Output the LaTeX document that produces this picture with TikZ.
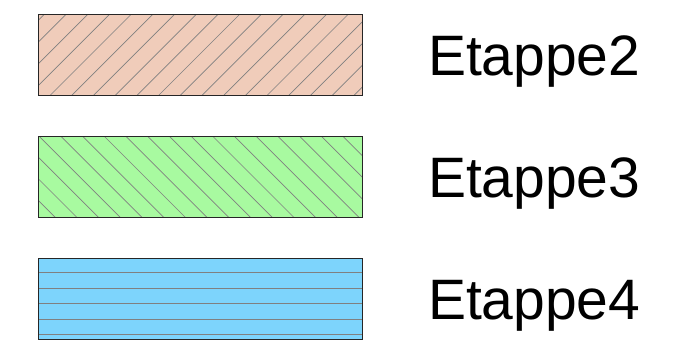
\documentclass[tikz,border=0pt]{standalone}
\usepackage{fontspec}
\setmainfont{Liberation Sans}
\usepackage{xcolor}
\usetikzlibrary{positioning}
\definecolor{saumon}{RGB}{240,204,186}
\definecolor{vertclair}{RGB}{168,250,160}
\definecolor{bleuclair}{RGB}{125,212,252}
\tikzset{
  caisse/.style={
    rectangle,
    draw=black!85, line width=0.8pt,
    minimum width=324pt,
    minimum height=81pt,
    inner sep=0pt},
  hachure/.style={draw=black!50, line width=0.7pt},
  etiquette/.style={
    font=\fontsize{57}{60}\selectfont,
    inner sep=0pt,
    anchor=base west},
  montant/.style={path picture={
      \foreach \k in {-5,...,15}
        \draw[hachure] ([xshift={11.7pt+\k*21.7pt}]path picture bounding box.south west) -- ++(100pt,100pt);
    }},
  descendant/.style={path picture={
      \foreach \k in {-5,...,15}
        \draw[hachure] ([xshift={0.7pt+\k*21.7pt}]path picture bounding box.north west) -- ++(100pt,-100pt);
    }},
  horizontal/.style={path picture={
      \foreach \k in {0,...,4}
        \draw[hachure] ([yshift={4.7pt+\k*15.4pt}]path picture bounding box.south west)
                    -- ([yshift={4.7pt+\k*15.4pt}]path picture bounding box.south east);
    }}
}

\begin{document}
\begin{tikzpicture}
    \useasboundingbox (0,0) rectangle (684pt,343pt);

    % les trois caisses
    \node[caisse, fill=saumon, montant, anchor=north west] (E2) at (38pt,329pt) {};
    \node[caisse, fill=vertclair, descendant, below=40pt of E2] (E3) {};
    \node[caisse, fill=bleuclair, horizontal, below=40pt of E3] (E4) {};

    % legendes
    \node[etiquette] (T2) at ([xshift=65pt,yshift=-20.5pt]E2.east) {Etappe2};
    \node[etiquette] (T3) at ([xshift=65pt,yshift=-20.5pt]E3.east) {Etappe3};
    \node[etiquette] (T4) at ([xshift=65pt,yshift=-20.5pt]E4.east) {Etappe4};
\end{tikzpicture}
\end{document}
